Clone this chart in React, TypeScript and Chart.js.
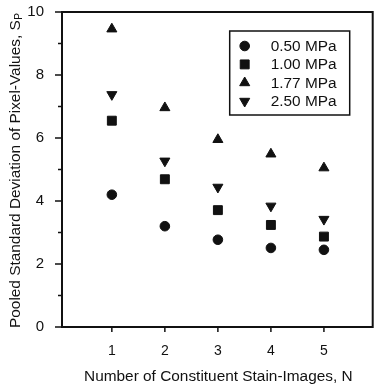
import React, { useEffect, useRef } from 'react';
import { Chart, registerables } from 'chart.js';
import { drawPoint } from 'chart.js/helpers';

Chart.register(...registerables);

// ---- data ----
const xValues = [1, 2, 3, 4, 5];
const seriesLabels = ['0.50 MPa', '1.00 MPa', '1.77 MPa', '2.50 MPa'];
const s050 = [4.2, 3.2, 2.77, 2.51, 2.45];
const s100 = [6.55, 4.69, 3.71, 3.24, 2.87];
const s177 = [9.46, 6.96, 5.95, 5.49, 5.05];
const s250 = [7.38, 5.27, 4.44, 3.84, 3.42];
const xTicks = [1, 2, 3, 4, 5];
const yMajorTicks = [0, 2, 4, 6, 8, 10];
const yMinorTicks = [1, 3, 5, 7, 9];
const xTitle = 'Number of Constituent Stain-Images, N';
const yTitle = 'Pooled Standard Deviation of Pixel-Values, S';
const yTitleSub = 'P';

const INK = '#111';
const FONT = '"Liberation Sans", Arial, Helvetica, sans-serif';

const toPoints = (ys: number[]) => xValues.map((x, i) => ({ x, y: ys[i] }));

const overlayPlugin = {
  id: 'overlay',
  afterDraw(chart: any) {
    const { ctx, chartArea: a, scales } = chart;
    ctx.save();
    // frame
    ctx.strokeStyle = INK;
    ctx.lineWidth = 2;
    ctx.strokeRect(a.left, a.top, a.right - a.left, a.bottom - a.top);
    // ticks
    ctx.lineWidth = 1.5;
    ctx.beginPath();
    yMajorTicks.forEach((v) => {
      const y = scales.y.getPixelForValue(v);
      ctx.moveTo(a.left - 7, y);
      ctx.lineTo(a.left, y);
    });
    yMinorTicks.forEach((v) => {
      const y = scales.y.getPixelForValue(v);
      ctx.moveTo(a.left - 4, y);
      ctx.lineTo(a.left, y);
    });
    xTicks.forEach((v) => {
      const x = scales.x.getPixelForValue(v);
      ctx.moveTo(x, a.bottom);
      ctx.lineTo(x, a.bottom + 5);
    });
    ctx.stroke();

    // y title with subscript
    ctx.fillStyle = INK;
    ctx.save();
    ctx.translate(19.5, a.bottom + 1);
    ctx.rotate(-Math.PI / 2);
    ctx.font = `15.4px ${FONT}`;
    ctx.textAlign = 'left';
    ctx.textBaseline = 'alphabetic';
    ctx.fillText(yTitle, 0, 0);
    const w = ctx.measureText(yTitle).width;
    ctx.font = `10px ${FONT}`;
    ctx.fillText(yTitleSub, w + 0.5, 2.5);
    ctx.restore();

    // x title
    ctx.font = `15.4px ${FONT}`;
    ctx.textAlign = 'center';
    ctx.textBaseline = 'alphabetic';
    ctx.fillText(xTitle, (a.left + a.right) / 2 + 1, 381);

    // legend
    const bx = a.right - 143;
    const by = a.top + 19;
    const bw = 120;
    const bh = 84;
    ctx.fillStyle = '#fff';
    ctx.fillRect(bx, by, bw, bh);
    ctx.strokeStyle = INK;
    ctx.lineWidth = 1.5;
    ctx.strokeRect(bx, by, bw, bh);
    chart.data.datasets.forEach((ds: any, i: number) => {
      const cy = by + 15 + i * 18.4;
      ctx.fillStyle = INK;
      ctx.strokeStyle = INK;
      ctx.lineWidth = ds.borderWidth;
      drawPoint(ctx, {
        pointStyle: ds.pointStyle,
        rotation: ds.rotation || 0,
        radius: ds.pointRadius,
        borderWidth: ds.borderWidth,
      } as any, bx + 15, cy);
      ctx.fillStyle = INK;
      ctx.font = `15.4px ${FONT}`;
      ctx.textAlign = 'left';
      ctx.textBaseline = 'middle';
      ctx.fillText(ds.label, bx + 41, cy + 0.5);
    });
    ctx.restore();
  },
};

export default function App() {
  const ref = useRef<HTMLCanvasElement | null>(null);
  useEffect(() => {
    document.body.style.margin = '0';
    const canvas = ref.current!;
    const mk = (label: string, ys: number[], style: string, r: number, rot = 0) => ({
      label,
      data: toPoints(ys),
      pointStyle: style,
      pointRadius: r,
      rotation: rot,
      pointRotation: rot,
      backgroundColor: INK,
      borderColor: INK,
      borderWidth: 1,
      showLine: false,
    });
    const chart = new Chart(canvas, {
      type: 'scatter',
      data: {
        datasets: [
          mk(seriesLabels[0], s050, 'circle', 4.8),
          mk(seriesLabels[1], s100, 'rect', 6.3),
          mk(seriesLabels[2], s177, 'triangle', 5.8),
          mk(seriesLabels[3], s250, 'triangle', 5.8, 180),
        ] as any,
      },
      options: {
        responsive: false,
        animation: false,
        layout: { padding: { top: 12, right: 3, left: 0, bottom: 0 } },
        plugins: { legend: { display: false }, tooltip: { enabled: false } },
        scales: {
          x: {
            type: 'linear',
            min: 0.06,
            max: 5.92,
            afterFit: (s: any) => {
              s.height = 62;
              s.paddingLeft = 0;
              s.paddingRight = 0;
              s.paddingTop = 0;
              s.paddingBottom = 0;
            },
            afterBuildTicks: (s: any) => { s.ticks = xTicks.map((v) => ({ value: v })); },
            grid: { display: false, drawTicks: false },
            border: { display: false },
            ticks: { font: { size: 14, family: FONT }, color: INK, padding: 16, maxRotation: 0 },
          },
          y: {
            type: 'linear',
            min: 0,
            max: 10,
            afterFit: (s: any) => {
              s.width = 62;
              s.paddingTop = 0;
              s.paddingBottom = 0;
              s.paddingLeft = 0;
              s.paddingRight = 0;
            },
            afterBuildTicks: (s: any) => { s.ticks = yMajorTicks.map((v) => ({ value: v })); },
            grid: { display: false, drawTicks: false },
            border: { display: false },
            ticks: { font: { size: 15, family: FONT }, color: INK, padding: 18 },
          },
        },
      },
      plugins: [overlayPlugin],
    });
    return () => chart.destroy();
  }, []);
  return <canvas ref={ref} width={380} height={389} style={{ display: 'block' }} />;
}
